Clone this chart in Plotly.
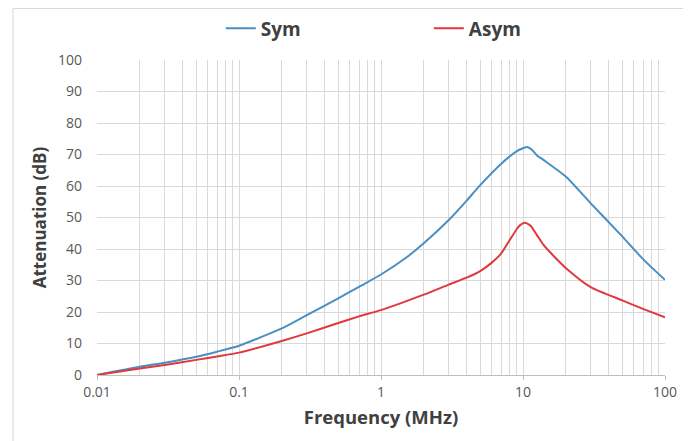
import plotly.graph_objects as go

# Data
sym_freq = [0.01, 0.02, 0.03, 0.05, 0.07, 0.1, 0.2, 0.3, 0.5, 0.7, 1, 1.5, 2, 3, 4, 5, 7, 9, 10, 10.7, 11.5, 12.5, 14, 20, 30, 50, 70, 100]
sym_att = [0, 2.6, 3.9, 5.8, 7.4, 9.3, 14.8, 19.0, 24.3, 28.0, 31.9, 37.2, 41.8, 49.2, 55.3, 60.3, 67.0, 71.0, 72.0, 72.4, 71.6, 69.8, 68.2, 63.0, 54.5, 44.0, 36.8, 30.2]

asym_freq = [0.01, 0.02, 0.03, 0.05, 0.07, 0.1, 0.2, 0.3, 0.5, 0.7, 1, 2, 3, 4, 5, 6, 7, 8, 9, 9.5, 10.3, 11.3, 12.5, 14, 16.5, 20, 30, 50, 70, 100]
asym_att = [0, 2.1, 3.2, 4.8, 5.9, 7.1, 10.8, 13.2, 16.5, 18.6, 20.6, 25.5, 28.7, 30.9, 33.0, 35.6, 38.5, 42.6, 46.2, 47.5, 48.3, 47.4, 44.5, 41.2, 37.7, 34.0, 27.9, 23.7, 21.0, 18.3]

x_tickvals = [0.01, 0.1, 1, 10, 100]
x_ticktext = ["0.01", "0.1", "1", "10", "100"]

FONT = "Open Sans"
GRID = "#d9d9d9"

fig = go.Figure()
fig.add_trace(go.Scatter(x=sym_freq, y=sym_att, name="Sym", mode="lines",
                         line=dict(color="#4a8fc4", width=2, shape="spline", smoothing=0.6)))
fig.add_trace(go.Scatter(x=asym_freq, y=asym_att, name="Asym", mode="lines",
                         line=dict(color="#e0383c", width=2, shape="spline", smoothing=0.6)))

fig.update_layout(
    width=683, height=433,
    margin=dict(l=89, r=26, t=52, b=66, autoexpand=False),
    paper_bgcolor="white", plot_bgcolor="white",
    font=dict(family=FONT, color="#595959", size=14),
    showlegend=True,
    legend=dict(orientation="h", x=0.218, xanchor="left", y=1.10, yanchor="middle",
                font=dict(family=FONT, size=19, color="#404040", weight="bold"),
                entrywidth=163, entrywidthmode="pixels", itemwidth=30,
                bgcolor="rgba(0,0,0,0)"),
    xaxis=dict(
        type="log", range=[-2, 2], automargin=False,
        tickvals=x_tickvals, ticktext=x_ticktext,
        showgrid=True, gridcolor=GRID, gridwidth=1,
        minor=dict(showgrid=True, gridcolor=GRID, gridwidth=1, dtick="D1", ticks=""),
        showline=True, linecolor="#bfbfbf", linewidth=1,
        ticks="outside", ticklen=4, tickcolor="#bfbfbf",
        zeroline=False,
        tickfont=dict(size=14, color="#595959"),
        title=dict(text="Frequency (MHz)", standoff=11,
                   font=dict(family=FONT, size=18.5, color="#404040", weight="bold")),
    ),
    yaxis=dict(
        range=[0, 100], dtick=10, automargin=False,
        showgrid=True, gridcolor=GRID, gridwidth=1,
        showline=False, zeroline=False, ticks="",
        ticklabelstandoff=14,
        tickfont=dict(size=14, color="#595959"),
        title=dict(text="Attenuation (dB)", standoff=7,
                   font=dict(family=FONT, size=17, color="#404040", weight="bold")),
    ),
    shapes=[dict(type="rect", xref="paper", yref="paper",
                 x0=-0.1479, x1=1.07, y0=-0.25, y1=1.1635,
                 line=dict(color="#d9d9d9", width=1), fillcolor="rgba(0,0,0,0)",
                 layer="below")],
)

fig.write_html("out.html")
